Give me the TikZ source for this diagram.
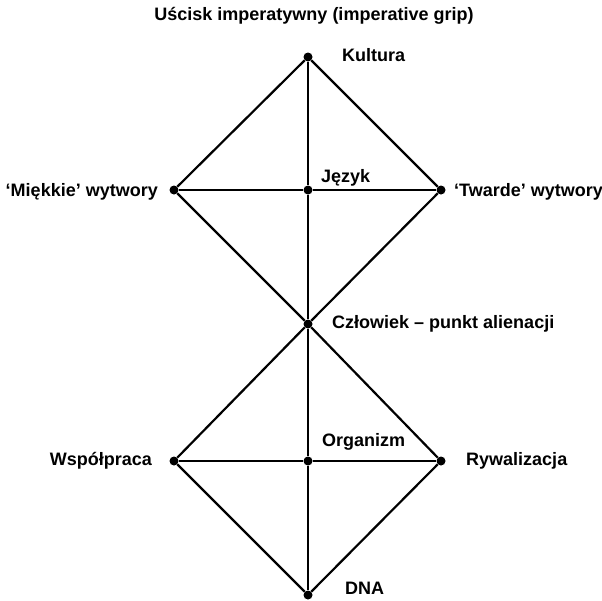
\documentclass[tikz,border=0pt]{standalone}
\usepackage{fontspec}
\setmainfont{Liberation Sans}
\begin{document}
\begin{tikzpicture}[x=1pt,y=-1pt,
  pt/.style={circle,fill=black,inner sep=0pt,minimum size=9pt},
  lbl/.style={font=\bfseries\fontsize{18}{21}\selectfont,inner sep=0pt,text height=13pt,text depth=0pt},
  edge/.style={line width=2.2pt}]
\useasboundingbox (0,0) rectangle (602,600);
\node[pt] (kul) at (308,57) {};
\node[pt] (jez) at (308,190) {};
\node[pt] (mie) at (174,190) {};
\node[pt] (twa) at (441,190) {};
\node[pt] (czl) at (308,324) {};
\node[pt] (wsp) at (174,461) {};
\node[pt] (org) at (308,461) {};
\node[pt] (ryw) at (441,461) {};
\node[pt] (dna) at (308,595) {};
\draw[edge] (kul) -- (mie) -- (czl) -- (twa) -- (kul);
\draw[edge] (kul) -- (jez) -- (czl);
\draw[edge] (mie) -- (jez) -- (twa);
\draw[edge] (czl) -- (wsp) -- (dna) -- (ryw) -- (czl);
\draw[edge] (czl) -- (org) -- (dna);
\draw[edge] (wsp) -- (org) -- (ryw);
\node[lbl] (title) at (314,13.5) {Uścisk imperatywny (imperative grip)};
\node[lbl,anchor=west] (tkul) at (342,54.5) {Kultura};
\node[lbl,anchor=west] (tjez) at (321,176) {Język};
\node[lbl,anchor=east] (tmie) at (158,190) {‘Miękkie’ wytwory};
\node[lbl,anchor=west] (ttwa) at (454,190) {‘Twarde’ wytwory};
\node[lbl,anchor=west] (tczl) at (332,322) {Człowiek – punkt alienacji};
\node[lbl,anchor=west] (torg) at (322,440) {Organizm};
\node[lbl,anchor=east] (twsp) at (152,459) {Współpraca};
\node[lbl,anchor=west] (tryw) at (466,459) {Rywalizacja};
\node[lbl,anchor=west] (tdna) at (345,588) {DNA};
\end{tikzpicture}
\end{document}
